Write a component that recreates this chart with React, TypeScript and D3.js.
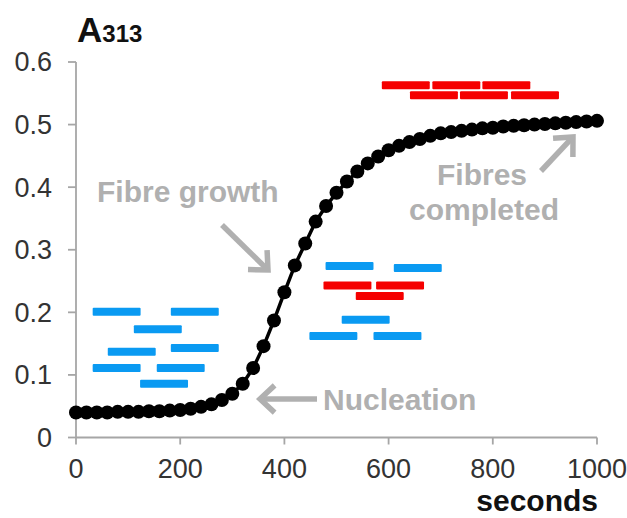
import { scaleLinear, line } from 'd3'

// absorbance readings, one every 20 seconds
let seconds = [0, 20, 40, 60, 80, 100, 120, 140, 160, 180, 200, 220, 240, 260, 280, 300, 320, 340, 360, 380,
    400, 420, 440, 460, 480, 500, 520, 540, 560, 580, 600, 620, 640, 660, 680, 700, 720, 740, 760, 780,
    800, 820, 840, 860, 880, 900, 920, 940, 960, 980, 1000]
let absorbance = [0.040, 0.040, 0.040, 0.040, 0.041, 0.041, 0.041, 0.042, 0.042, 0.043, 0.044, 0.046, 0.049, 0.053, 0.060, 0.070, 0.086, 0.111, 0.146, 0.187,
    0.232, 0.275, 0.310, 0.345, 0.370, 0.391, 0.409, 0.425, 0.438, 0.449, 0.459, 0.466, 0.472, 0.477, 0.482, 0.486, 0.488, 0.490, 0.492, 0.494,
    0.495, 0.497, 0.498, 0.499, 0.500, 0.501, 0.502, 0.503, 0.504, 0.505, 0.506]

let xTicks = [0, 200, 400, 600, 800, 1000]
let yTicks = [0, 0.1, 0.2, 0.3, 0.4, 0.5, 0.6]
let yTickLabels = ['0', '0.1', '0.2', '0.3', '0.4', '0.5', '0.6']

// schematic fibrils: [start second, level]
let blueFibrils = [
    [32, 0.201], [182, 0.201], [111, 0.173], [61, 0.137], [182, 0.143], [32, 0.111], [155, 0.111], [123, 0.086],
    [479, 0.274], [610, 0.271], [510, 0.188], [448, 0.162], [571, 0.162]
]
let redFibrils = [
    [475, 0.243], [576, 0.243], [537, 0.226],
    [587, 0.563], [684, 0.563], [780, 0.563], [641, 0.547], [737, 0.547], [835, 0.547]
]
let fibrilLength = 92

let App = () => {
    let width = 627
    let height = 518

    let xScale = scaleLinear().domain([0, 1000]).range([76, 597])
    let yScale = scaleLinear().domain([0, 0.6]).range([437.5, 62])

    let points = seconds.map((s, i) => [xScale(s), yScale(absorbance[i])] as [number, number])
    let path = line()(points)

    let gray = '#b0b0b0'
    let axisGray = '#a6a6a6'
    let font = '"Liberation Sans", Arial, sans-serif'

    // open chevron arrow, tip at (x2, y2)
    let arrow = (x1: number, y1: number, x2: number, y2: number, key: string) => {
        let ang = Math.atan2(y2 - y1, x2 - x1)
        let len = 20
        let spread = 0.75
        let w1 = [x2 - len * Math.cos(ang - spread), y2 - len * Math.sin(ang - spread)]
        let w2 = [x2 - len * Math.cos(ang + spread), y2 - len * Math.sin(ang + spread)]
        return (
            <g key={key} stroke={gray} strokeWidth={5.5} fill='none' strokeLinecap='butt' strokeLinejoin='miter'>
                <line x1={x1} y1={y1} x2={x2 - 2 * Math.cos(ang)} y2={y2 - 2 * Math.sin(ang)} />
                <polyline points={`${w1[0]},${w1[1]} ${x2},${y2} ${w2[0]},${w2[1]}`} />
            </g>
        )
    }

    let fibril = (d: number[], color: string, i: number) => (
        <rect key={color + i}
            x={xScale(d[0])}
            y={yScale(d[1]) - 4}
            width={xScale(d[0] + fibrilLength) - xScale(d[0])}
            height={8}
            rx={1}
            fill={color} />
    )

    return (
        <svg width={width} height={height} style={{ position: 'absolute', left: 0, top: 0, background: 'white' }} fontFamily={font}>
            {/* title */}
            <text x={77} y={42} fontWeight='bold' fill='#111'>
                <tspan fontSize={35}>A</tspan>
                <tspan fontSize={24}>313</tspan>
            </text>

            {/* y axis */}
            <line x1={76} x2={76} y1={yScale(0.6)} y2={yScale(0)} stroke={axisGray} strokeWidth={1.8} />
            {yTicks.map((t, i) => (
                <g key={t} transform={`translate(0,${yScale(t)})`}>
                    <line x1={68} x2={76} stroke={axisGray} strokeWidth={1.8} />
                    <text x={52} dy='.35em' textAnchor='end' fontSize={27} fill='#333'>{yTickLabels[i]}</text>
                </g>
            ))}

            {/* x axis */}
            <line x1={xScale(0)} x2={xScale(1000)} y1={yScale(0)} y2={yScale(0)} stroke={axisGray} strokeWidth={1.8} />
            {xTicks.map((t) => (
                <g key={t} transform={`translate(${xScale(t)},0)`}>
                    <line y1={yScale(0)} y2={yScale(0) + 7} stroke={axisGray} strokeWidth={1.8} />
                    <text y={478} textAnchor='middle' fontSize={27} fill='#333'>{t}</text>
                </g>
            ))}
            <text x={598} y={511} textAnchor='end' fontSize={30} fontWeight='bold' fill='#111'>seconds</text>

            {/* fibrils */}
            {blueFibrils.map((d, i) => fibril(d, '#0a9af2', i))}
            {redFibrils.map((d, i) => fibril(d, '#f50000', i))}

            {/* curve */}
            <path d={path ?? ''} fill='none' stroke='black' strokeWidth={3.5} />
            {points.map((p, i) => (
                <circle key={i} cx={p[0]} cy={p[1]} r={7} fill='black' />
            ))}

            {/* annotations */}
            <g fill={gray} fontWeight='bold' fontSize={30}>
                <text x={97} y={202}>Fibre growth</text>
                <text x={323} y={410}>Nucleation</text>
                <text x={482} y={185} textAnchor='middle'>Fibres</text>
                <text x={484} y={220} textAnchor='middle'>completed</text>
            </g>
            {arrow(222, 225, 268, 270, 'growth')}
            {arrow(317, 399, 260, 399, 'nucleation')}
            {arrow(541, 171, 573, 137, 'completed')}
        </svg>
    )
}

export default App
